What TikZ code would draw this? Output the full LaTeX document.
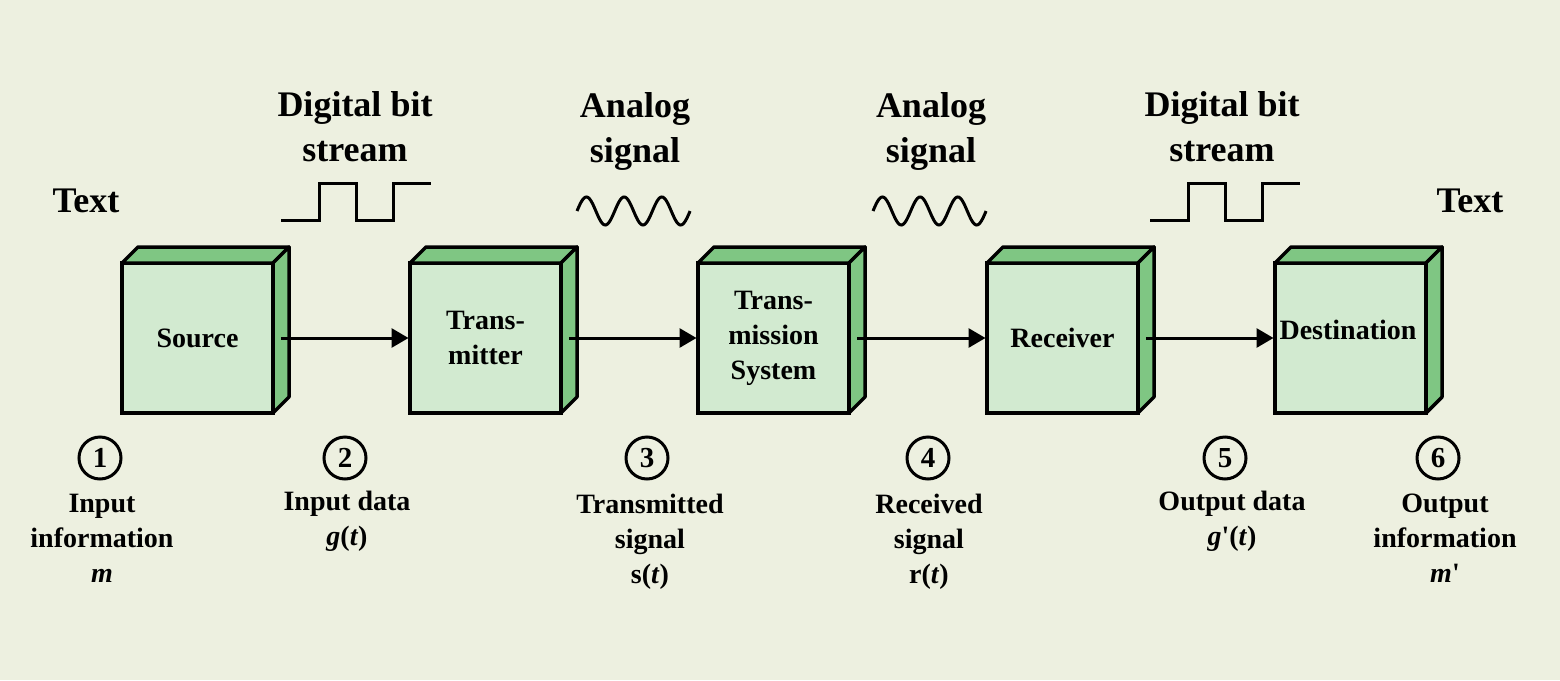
\documentclass[tikz,border=0pt]{standalone}
\usepackage{fontspec}
\setmainfont{Liberation Serif}[Ligatures=TeXOff]
\usetikzlibrary{arrows.meta}
\definecolor{bgc}{HTML}{EDF0E0}
\definecolor{frontc}{HTML}{D2EAD0}
\definecolor{sidec}{HTML}{7FC683}
\begin{document}
\begin{tikzpicture}[x=1pt,y=-1pt,
  blk/.style={draw, line width=3.5pt, fill=frontc, minimum width=151pt, minimum height=150pt, outer sep=0pt, inner sep=0pt, align=center, font=\fontsize{28}{35}\selectfont\bfseries},
  btxt/.style={inner sep=0pt, align=center, font=\fontsize{28}{35}\selectfont\bfseries},
  face/.style={draw, line width=3.5pt, fill=sidec, line join=round},
  conn/.style={line width=3pt, shorten >=1.5pt, -{Triangle[length=17pt,width=19pt]}},
  head/.style={align=center, inner sep=0pt, font=\fontsize{36}{45}\selectfont\bfseries},
  lab/.style={align=center, inner sep=0pt, font=\fontsize{28}{35}\selectfont\bfseries},
  numc/.style={circle, draw, line width=3pt, minimum size=42pt, inner sep=0pt, font=\fontsize{29}{29}\selectfont\bfseries},
  wave/.style={line width=3pt, line join=miter}
]
\fill[bgc] (0,0) rectangle (1560,680);
\useasboundingbox (0,0) rectangle (1560,680);

% boxes
\node[blk] (src) at (197.5,338) {Source};
\node[blk] (trn) at (485.5,338) {Trans-\\mitter};
\node[blk] (sys) at (773.5,338) {Trans-\\mission\\System};
\node[blk] (rcv) at (1062.5,338) {Receiver};
\node[blk] (dst) at (1350.5,338) {};
\node[btxt] (dstt) at (1348,330) {Destination};

\foreach \b in {src,trn,sys,rcv,dst}{
  \draw[face] (\b.north west) -- ++(16,-16) -- ++(151,0) -- (\b.north east) -- cycle;
  \draw[face] (\b.north east) -- ++(16,-16) -- ++(0,150) -- (\b.south east) -- cycle;
}

% connectors
\coordinate (srcout) at ([xshift=8pt]src.east);
\coordinate (trnout) at ([xshift=8pt]trn.east);
\coordinate (sysout) at ([xshift=8pt]sys.east);
\coordinate (rcvout) at ([xshift=8pt]rcv.east);
\draw[conn] (srcout) -- (trn.west);
\draw[conn] (trnout) -- (sys.west);
\draw[conn] (sysout) -- (rcv.west);
\draw[conn] (rcvout) -- (dst.west);

% headings
\node[head] (txtl) at (86,201) {Text};
\node[head] (txtr) at (1470,201) {Text};
\node[head] (dbs1) at (355,127) {Digital bit\\stream};
\node[head] (as1) at (635,131) {Analog\\signal};
\node[head] (as2) at (931,131) {Analog\\signal};
\node[head] (dbs2) at (1222,127) {Digital bit\\stream};

% waveforms
\draw[wave] (281,220) -- (319,220) -- (319,183) -- (356,183) -- (356,220) -- (393,220) -- (393,183) -- (431,183);
\draw[wave] (1150,220) -- (1188,220) -- (1188,183) -- (1225,183) -- (1225,220) -- (1262,220) -- (1262,183) -- (1300,183);
\draw[wave] plot[domain=0:3, samples=121, smooth] ({577+37.7*\x},{211-14*sin(360*\x)});
\draw[wave] plot[domain=0:3, samples=121, smooth] ({873+37.7*\x},{211-14*sin(360*\x)});

% numbered circles
\node[numc] (n1) at (100,458) {1};
\node[numc] (n2) at (345,458) {2};
\node[numc] (n3) at (647,458) {3};
\node[numc] (n4) at (928,458) {4};
\node[numc] (n5) at (1225,458) {5};
\node[numc] (n6) at (1438,458) {6};

% labels
\node[lab] (l1) at (102,538) {Input\\information\\\textit{m}};
\node[lab] (l2) at (347,521) {Input data\\\textit{g}(\textit{t})};
\node[lab] (l3) at (650,542) {Transmitted\\signal\\s(\textit{t})};
\node[lab] (l4) at (929,542) {Received\\signal\\r(\textit{t})};
\node[lab] (l5) at (1232,521) {Output data\\\textit{g}'(\textit{t})};
\node[lab] (l6) at (1445,538) {Output\\information\\\textit{m}'};
\end{tikzpicture}
\end{document}
